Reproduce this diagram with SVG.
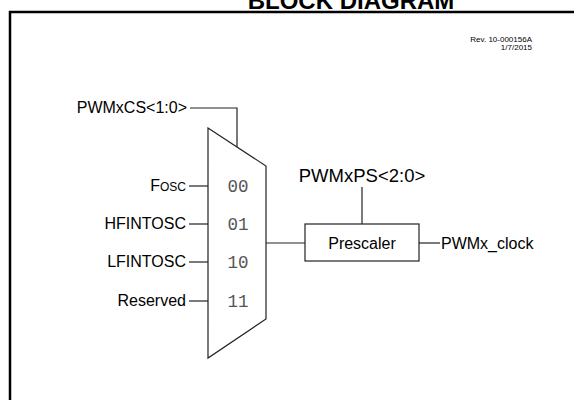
<svg xmlns="http://www.w3.org/2000/svg" width="574" height="400" viewBox="0 0 574 400">
<style>
.t{font-family:"Liberation Sans",Arial,sans-serif;fill:#000}
.l{font-size:16px;text-anchor:end}
.m{font-family:"Liberation Mono","Courier New",monospace;fill:#555;font-size:17.5px;text-anchor:middle}
.w{stroke:#222;stroke-width:1.2;fill:none}
</style>
<rect x="0" y="0" width="574" height="400" fill="#fff"/>
<text class="t" x="351" y="9" font-size="24" font-weight="bold" text-anchor="middle">BLOCK DIAGRAM</text>
<path d="M10,400 V12 H574" stroke="#000" stroke-width="2.5" fill="none"/>
<text class="t" x="532" y="42" font-size="8" text-anchor="end">Rev. 10-000156A</text>
<text class="t" x="532" y="50" font-size="8" text-anchor="end">1/7/2015</text>
<g id="connectors">
<path class="w" d="M190,108 H237 V147"/>
<path class="w" d="M189,186 H208"/>
<path class="w" d="M189,224 H208"/>
<path class="w" d="M189,262 H208"/>
<path class="w" d="M189,301 H208"/>
<path class="w" d="M266,243 H305"/>
<path class="w" d="M362,187 V224"/>
<path class="w" d="M419,243 H440"/>
</g>
<g id="mux">
<polygon class="w" points="208,128 266,166 266,319 208,358" fill="#fff"/>
<text class="m" x="238" y="192">00</text>
<text class="m" x="238" y="230">01</text>
<text class="m" x="238" y="268">10</text>
<text class="m" x="238" y="307">11</text>
</g>
<g id="sel"><text class="t l" x="187" y="113">PWMxCS&lt;1:0&gt;</text></g>
<g id="fosc"><text class="t l" x="186" y="191">F<tspan font-size="12">OSC</tspan></text></g>
<g id="hf"><text class="t l" x="186" y="229">HFINTOSC</text></g>
<g id="lf"><text class="t l" x="186" y="267">LFINTOSC</text></g>
<g id="res"><text class="t l" x="186" y="306">Reserved</text></g>
<g id="ps"><text class="t" x="362" y="182" font-size="18.5" text-anchor="middle">PWMxPS&lt;2:0&gt;</text></g>
<g id="prescaler">
<rect class="w" x="305" y="224" width="114" height="37" fill="#fff"/>
<text class="t" x="362" y="249" font-size="16" text-anchor="middle">Prescaler</text>
</g>
<g id="out"><text class="t" x="441" y="249" font-size="16">PWMx_clock</text></g>
</svg>
